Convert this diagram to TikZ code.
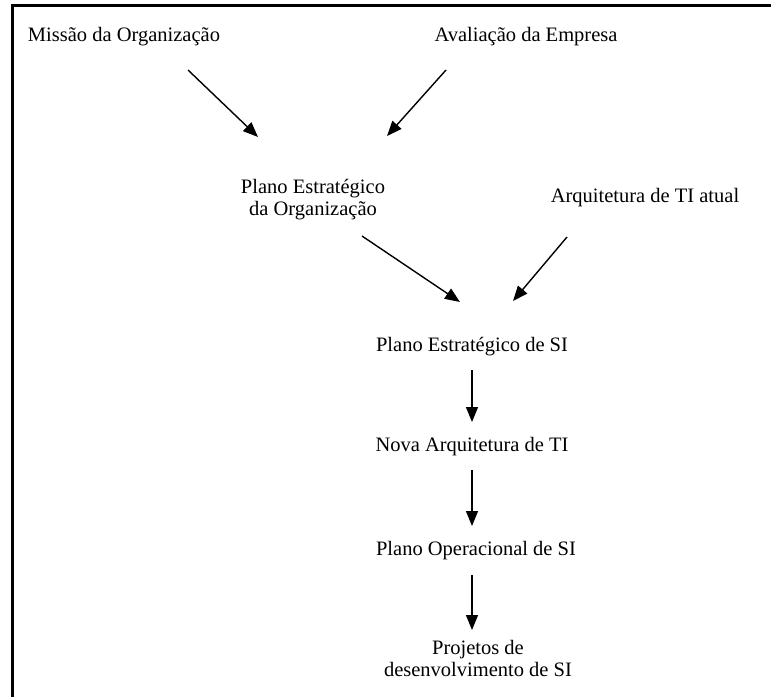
\documentclass[tikz,border=0pt]{standalone}
\usepackage{fontspec}
\setmainfont{Liberation Serif}
\usetikzlibrary{arrows.meta}
\begin{document}
\begin{tikzpicture}[x=1pt,y=-1pt,
 lbl/.style={font=\fontsize{20.5}{22}\selectfont, inner sep=0pt, anchor=base},
 lbl2/.style={font=\fontsize{20.5}{22}\selectfont, inner sep=0pt, align=center},
 arr/.style={line width=1.4pt, -{Triangle[length=15pt,width=12pt]}},
 frame/.style={line width=3pt}]
\useasboundingbox (0,0) rectangle (771,697);
\draw[frame] (12,697) -- (12,5) -- (771,5);
\node[lbl] (mis) at (124,41) {Missão da Organização};
\node[lbl] (ava) at (526,41) {Avaliação da Empresa};
\node[lbl2] (peo) at (313,200) {Plano Estratégico\\da Organização};
\node[lbl] (arq) at (645,202) {Arquitetura de TI atual};
\node[lbl] (pes) at (472,351) {Plano Estratégico de SI};
\node[lbl] (nat) at (472,451) {Nova Arquitetura de TI};
\node[lbl] (pop) at (476,555) {Plano Operacional de SI};
\node[lbl2] (proj) at (478,658) {Projetos de\\desenvolvimento de SI};
\coordinate (a1s) at (188,70);  \coordinate (a1e) at (258,137);
\coordinate (a2s) at (446,70);  \coordinate (a2e) at (387,136);
\coordinate (a3s) at (362,236); \coordinate (a3e) at (460,302);
\coordinate (a4s) at (567,237); \coordinate (a4e) at (513,301);
\coordinate (a5s) at (472,370); \coordinate (a5e) at (472,422);
\coordinate (a6s) at (472,470); \coordinate (a6e) at (472,526);
\coordinate (a7s) at (472,575); \coordinate (a7e) at (472,630);
\draw[arr] (a1s) -- (a1e);
\draw[arr] (a2s) -- (a2e);
\draw[arr] (a3s) -- (a3e);
\draw[arr] (a4s) -- (a4e);
\draw[arr] (a5s) -- (a5e);
\draw[arr] (a6s) -- (a6e);
\draw[arr] (a7s) -- (a7e);
\end{tikzpicture}
\end{document}
